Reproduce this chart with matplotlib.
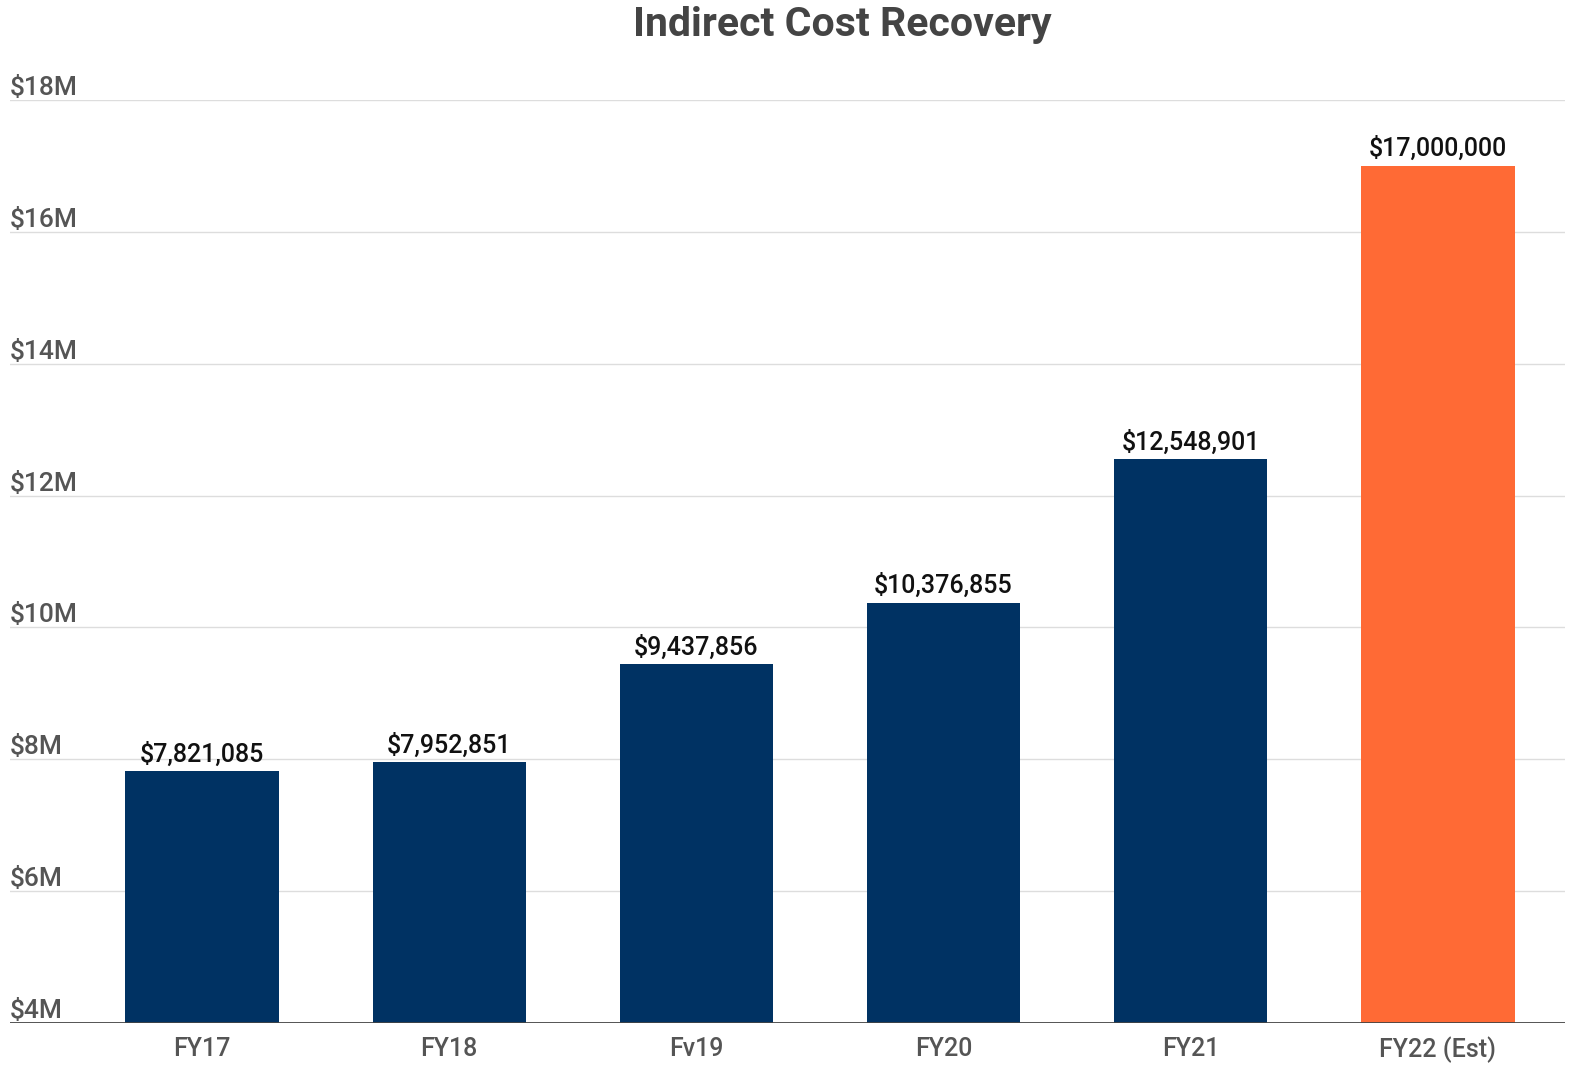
import matplotlib.pyplot as plt

# Datos
anios = ['FY17', 'FY18', 'Fv19', 'FY20', 'FY21', 'FY22 (Est)']
recuperacion = [7821085, 7952851, 9437856, 10376855, 12548901, 17000000]
etiquetas = ['$7,821,085', '$7,952,851', '$9,437,856', '$10,376,855',
             '$12,548,901', '$17,000,000']
colores = ['#003263', '#003263', '#003263', '#003263', '#003263', '#FF6A35']
ticks_y = [4, 6, 8, 10, 12, 14, 16, 18]

plt.rcParams['font.family'] = ['Roboto', 'DejaVu Sans']

fig = plt.figure(figsize=(15.83, 10.67), dpi=100)
ax = fig.add_axes([10 / 1583, 1 - 1023 / 1067, 1555 / 1583, 923 / 1067])

x = list(range(len(anios)))
valores_m = [v / 1e6 for v in recuperacion]
ax.bar(x, valores_m, width=0.62, color=colores, zorder=3, bottom=0)

for xi, v, txt in zip(x, valores_m, etiquetas):
    ax.annotate(txt, (xi, v), xytext=(0, 7), textcoords='offset points',
                ha='center', va='baseline', fontsize=18, fontweight='medium',
                color='#111111')

ax.set_ylim(4, 18)
ax.set_xlim(-0.777, 5.514)

# lineas de cuadricula y etiquetas del eje y encima de ellas
for t in ticks_y:
    if t > 4:
        ax.axhline(t, color='#dddddd', lw=1, zorder=1)
    ax.text(0, t, f'${t}M', transform=ax.get_yaxis_transform(),
            ha='left', va='bottom', fontsize=19, color='#555555',
            fontweight='medium')
ax.axhline(4, color='#444444', lw=2, zorder=4)

ax.set_yticks([])
ax.set_xticks(x)
ax.set_xticklabels(anios, fontsize=18, color='#555555', fontweight='medium')
ax.tick_params(axis='x', length=0, pad=10)
for s in ax.spines.values():
    s.set_visible(False)

fig.text(842 / 1583, 1 - 25 / 1067, 'Indirect Cost Recovery', ha='center',
         va='center', fontsize=29.5, fontweight='bold', color='#444444')

fig.savefig('out.png', dpi=100)
